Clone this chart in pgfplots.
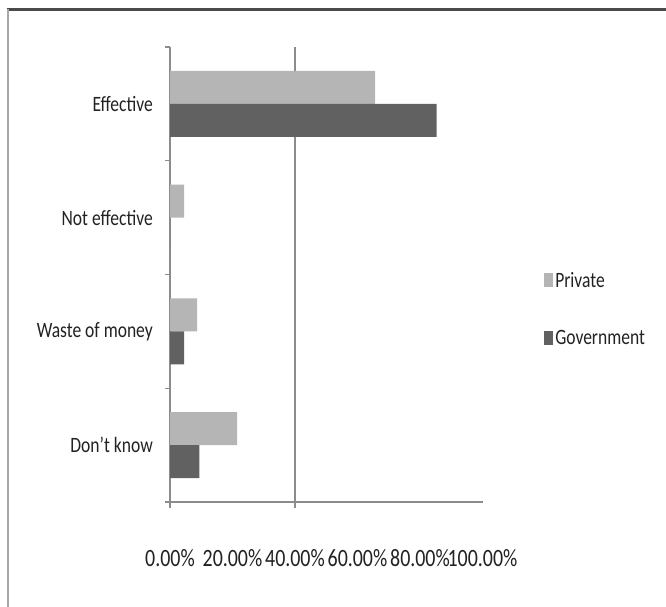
\documentclass[border=0pt]{standalone}
\usepackage{fontspec}
\setmainfont{Carlito}[FakeStretch=0.8]
\usepackage{pgfplots}
\pgfplotsset{compat=1.18}
\definecolor{priv}{HTML}{B4B5B4}
\definecolor{gov}{HTML}{606160}
\definecolor{axgray}{HTML}{8C8C8C}
\definecolor{frametop}{HTML}{4A4A4A}
\definecolor{frameleft}{HTML}{A8A8A8}
\definecolor{txt}{HTML}{222222}
\begin{document}
\begin{tikzpicture}
\path[use as bounding box] (0,0) rectangle (666bp,607bp);
\draw[frametop, line width=3bp] (7bp,597bp) -- (666bp,597bp);
\draw[frameleft, line width=2bp] (8bp,598bp) -- (8bp,0);
\begin{axis}[
  at={(170bp,105bp)}, anchor=south west,
  scale only axis, width=312.5bp, height=455bp,
  xmin=0, xmax=100, ymin=-0.5, ymax=3.5,
  axis lines*=left,
  axis line style={axgray, line width=1.2bp, -},
  tick align=outside,
  every tick/.style={axgray, line width=1.2bp},
  major tick length=0pt,
  xtick={0,20,40,60,80,100},
  xticklabels={0.00\%,20.00\%,40.00\%,60.00\%,80.00\%,100.00\%},
  ytick={0,1,2,3},
  yticklabels={Don't know,Waste of money,Not effective,Effective},
  extra x ticks={0,40}, extra x tick labels={},
  extra x tick style={grid=major, major grid style={axgray, line width=1.2bp}, major tick length=6bp},
  extra y ticks={-0.5,0.5,1.5,2.5,3.5}, extra y tick labels={},
  extra y tick style={major tick length=5bp},
  xticklabel style={font=\fontsize{25}{28}\selectfont, text=txt, inner sep=0pt, anchor=north, yshift=-47bp},
  yticklabel style={font=\fontsize{22}{26}\selectfont, text=txt, inner sep=0pt, anchor=east, xshift=-17bp},
  legend style={at={(1.197,0.424)}, anchor=west, draw=none, fill=none, inner sep=0pt,
    row sep=38bp, font=\fontsize{22}{26}\selectfont, text=txt,
    nodes={inner sep=2bp}},
  legend cell align=left,
  legend image code/.code={\fill[#1] (0bp,-7bp) rectangle (9bp,7bp);},
]
\addplot[xbar, bar width=0.29, bar shift=0.145, fill=priv, draw=none]
  coordinates {(65.6,3) (4.5,2) (8.7,1) (21.5,0)};
\addlegendentry{Private}
\addplot[xbar, bar width=0.29, bar shift=-0.145, fill=gov, draw=none]
  coordinates {(85.3,3) (0,2) (4.5,1) (9.4,0)};
\addlegendentry{Government}
\end{axis}
\end{tikzpicture}
\end{document}
